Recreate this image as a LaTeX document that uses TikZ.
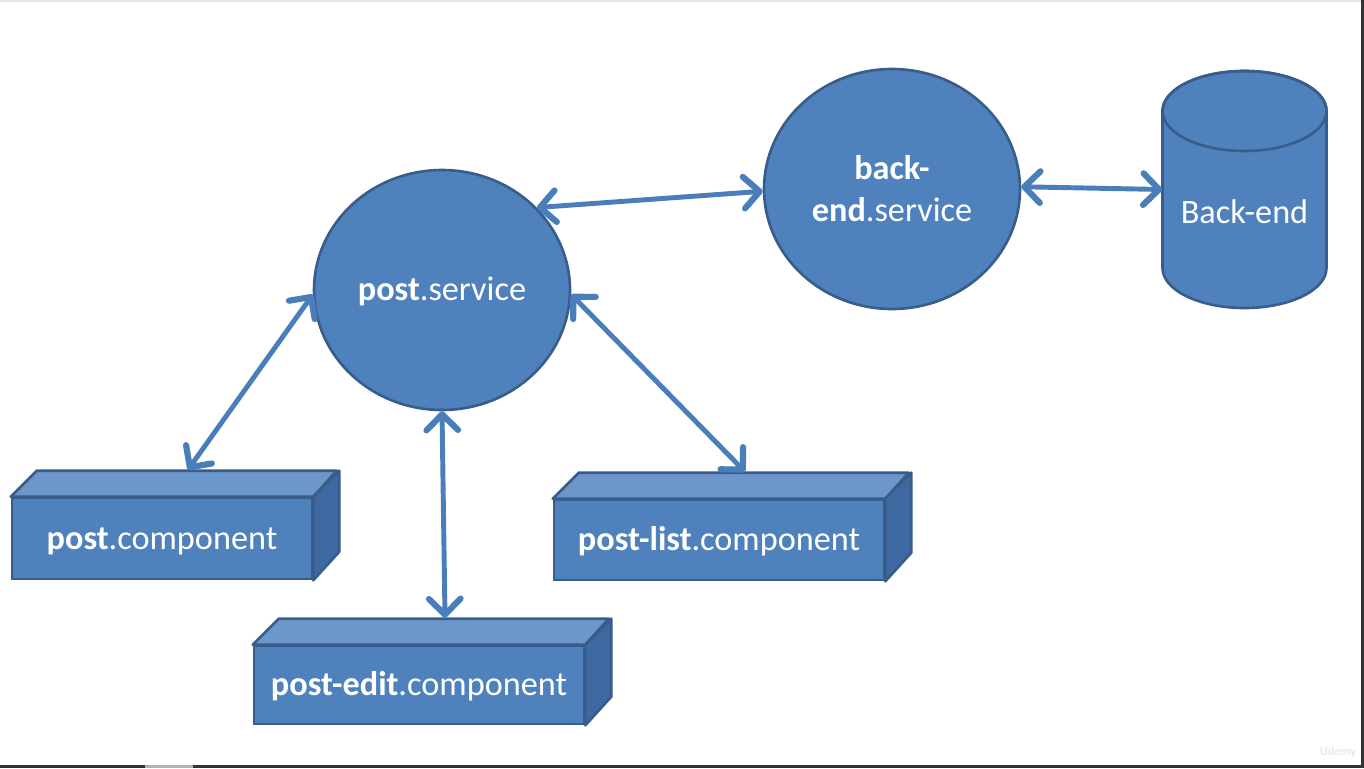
\documentclass[tikz,border=0pt]{standalone}
\usepackage{fontspec}
\setmainfont{Carlito}
\usetikzlibrary{arrows.meta, shapes.geometric}

\definecolor{mainblue}{HTML}{4F81BD}
\definecolor{bordblue}{HTML}{385D8A}
\definecolor{arrowblue}{HTML}{4A7EBB}
\definecolor{topblue}{HTML}{6D96CB}
\definecolor{sideblue}{HTML}{3E69A2}

\tikzset{
	service/.style={ellipse, draw=bordblue, line width=1.5pt, fill=mainblue, text=white, inner sep=0pt,
		minimum width=5.12cm, minimum height=4.8cm, align=center, font=\fontsize{19.5}{24}\selectfont},
	comp/.style={rectangle, draw=bordblue, line width=1.5pt, fill=mainblue, text=white, inner sep=0pt,
		text height=16.5pt, text depth=4pt, font=\fontsize{19.5}{24}\selectfont},
	topface/.style={draw=bordblue, line width=1.5pt, fill=topblue, line join=round},
	sideface/.style={draw=bordblue, line width=1.5pt, fill=sideblue, line join=round},
	link/.style={<->, draw=arrowblue, line width=2.8pt, line cap=round}
}

\begin{document}
\begin{tikzpicture}[x=0.02cm, y=-0.02cm, >={Straight Barb[length=9pt, width=18pt, line width=0pt 1.25 1, round]}]
	\useasboundingbox (0,0) rectangle (1364,768);
	\fill[white] (0,0) rectangle (1364,768);
	
	%frame
	\fill[gray!20] (0,0) rectangle (1364,1.5);
	\fill[black!80] (1361,0) rectangle (1364,768);
	\fill[black!80] (0,765) rectangle (1364,768);
	\fill[gray!60] (145,765) rectangle (193,768);
	
	%services
	\node[service, text height=16.5pt, text depth=4pt] (ps) at (442,290) {\textbf{post}.service};
	\node[service] (bs) at (892,189) {\textbf{back-}\\\textbf{end}.service};
	
	%database
	\filldraw[draw=bordblue, line width=1.5pt, fill=mainblue] (1162.5,111) -- (1162.5,268)
		arc[start angle=180, end angle=360, x radius=1.64cm, y radius=0.8cm] -- (1326.5,111)
		arc[start angle=0, end angle=180, x radius=1.64cm, y radius=0.8cm] -- cycle;
	\draw[draw=bordblue, line width=1.5pt] (1244.5,111) ellipse [x radius=1.64cm, y radius=0.8cm];
	\node[minimum width=3.28cm, minimum height=4.74cm, inner sep=0pt] (db) at (1244.5,189.5) {};
	\node[text=white, font=\fontsize{19.5}{24}\selectfont] (dblabel) at (1244.5,212) {Back-end};
	
	%components
	\node[comp, minimum width=6cm, minimum height=1.62cm] (pc) at (162,538.5) {\textbf{post}.component};
	\filldraw[topface] (pc.north west) -- ++(26,-26) -- ++(300,0) -- (pc.north east) -- cycle;
	\filldraw[sideface] (pc.north east) -- ++(26,-26) -- ++(0,81) -- (pc.south east) -- cycle;
	
	\node[comp, minimum width=6.6cm, minimum height=1.56cm] (pe) at (419,685) {\textbf{post-edit}.component};
	\filldraw[topface] (pe.north west) -- ++(26,-26) -- ++(330,0) -- (pe.north east) -- cycle;
	\filldraw[sideface] (pe.north east) -- ++(26,-26) -- ++(0,78) -- (pe.south east) -- cycle;
	
	\node[comp, minimum width=6.6cm, minimum height=1.6cm] (pl) at (719,540) {\textbf{post-list}.component};
	\filldraw[topface] (pl.north west) -- ++(26,-26) -- ++(330,0) -- (pl.north east) -- cycle;
	\filldraw[sideface] (pl.north east) -- ++(26,-26) -- ++(0,80) -- (pl.south east) -- cycle;
	
	\coordinate (pc-top) at ([shift={(26,-27)}]pc.north);
	\coordinate (pe-top) at ([shift={(26,-27)}]pe.north);
	\coordinate (pl-top) at ([shift={(26,-27)}]pl.north);
	
	%arrows
	\draw[link] (ps.41)  -- (bs.181);		%services
	\draw[link] (bs.1)   -- (db.west);		%back-end
	\draw[link] (ps.182) -- (pc-top);		%left
	\draw[link] (ps.south) -- (pe-top);		%middle
	\draw[link] (ps.358) -- (pl-top);		%right
	
	%watermark
	\node[text=gray!18, font=\bfseries\scriptsize] (mark) at (1338,752) {Udemy};
\end{tikzpicture}
\end{document}
